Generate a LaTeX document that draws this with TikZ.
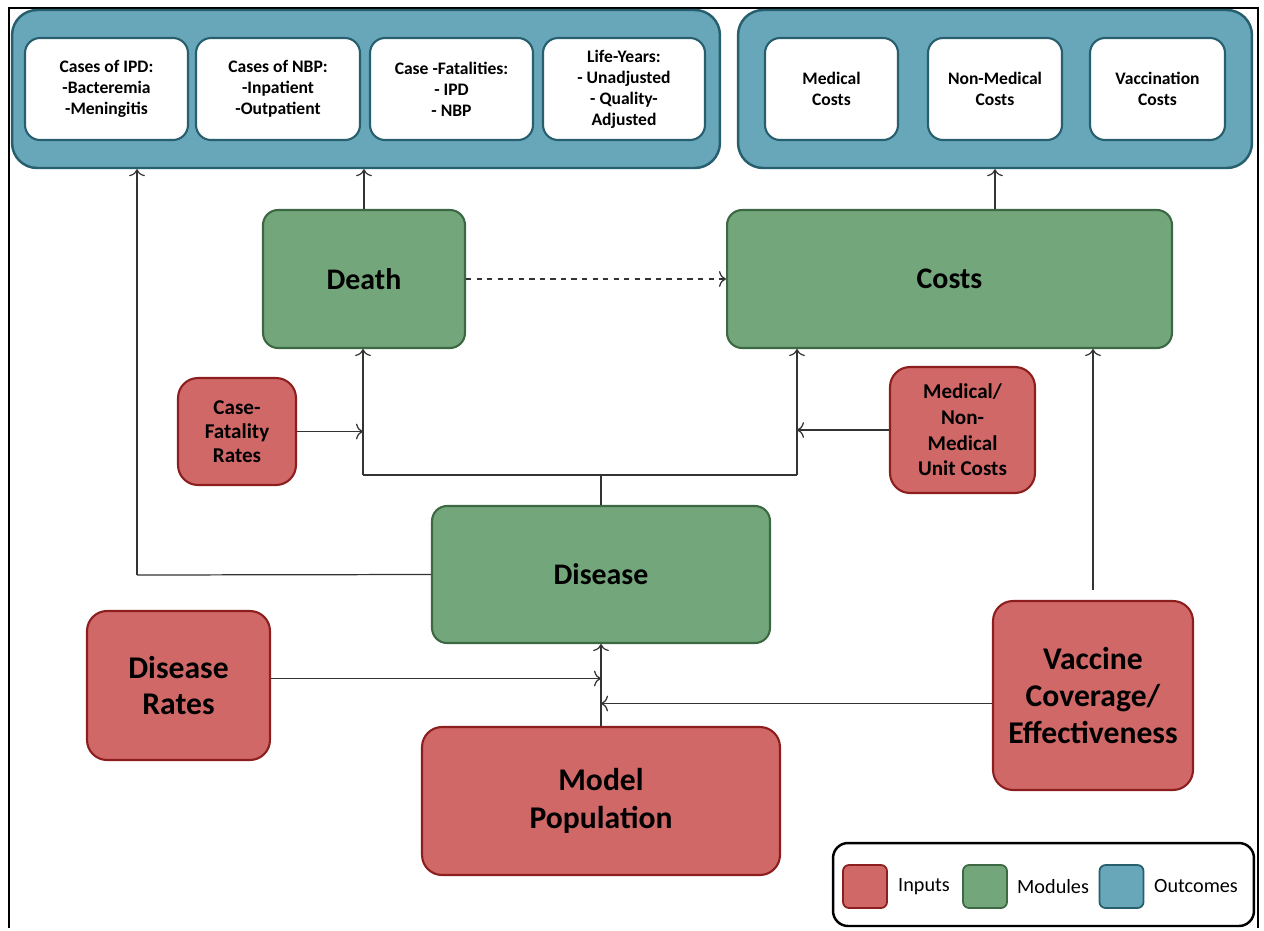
\documentclass[tikz,border=0pt]{standalone}
\usepackage{fontspec}
\setmainfont{Carlito}
\usetikzlibrary{calc,arrows.meta}

\definecolor{inputred}{RGB}{209,104,104}
\definecolor{inputline}{RGB}{140,30,30}
\definecolor{modgreen}{RGB}{115,166,122}
\definecolor{modline}{RGB}{60,105,68}
\definecolor{outteal}{RGB}{103,167,185}
\definecolor{outline}{RGB}{40,95,110}

\tikzset{
  input/.style={draw=inputline, fill=inputred, line width=1.2pt, rounded corners=0.4cm,
    align=center, inner sep=0pt, font=\bfseries},
  module/.style={draw=modline, fill=modgreen, line width=1.2pt, rounded corners=0.3cm,
    align=center, inner sep=0pt, font=\bfseries\fontsize{17}{20}\selectfont},
  panel/.style={draw=outline, fill=outteal, line width=1.4pt, rounded corners=0.5cm,
    inner sep=0pt, minimum height=3.16cm},
  result/.style={draw=outline, fill=white, line width=1.2pt, rounded corners=0.3cm,
    align=center, inner sep=0pt, minimum height=2.04cm,
    font=\bfseries\fontsize{10}{12}\selectfont},
  swatch/.style={line width=1pt, rounded corners=0.12cm, minimum width=0.88cm,
    minimum height=0.86cm, inner sep=0pt},
  link/.style={draw=black!80, line width=0.7pt},
  arrow/.style={link, -{To[length=4pt,width=9pt]}}
}

\begin{document}
\begin{tikzpicture}[x=0.02cm, y=-0.02cm]
  \useasboundingbox (0,0) rectangle (1264,930);
  % frame
  \draw[line width=1.6pt] (9,928) -- (9,8) -- (1258,8) -- (1258,928);

  % outcomes
  \node[panel, minimum width=14.16cm] (outL) at (366,89) {};
  \node[panel, minimum width=10.28cm] (outR) at (995,89) {};
  \node[result, minimum width=3.26cm] (ipd) at (106.5,89) {Cases of IPD:\\-Bacteremia\\-Meningitis};
  \node[result, minimum width=3.28cm] (nbp) at (278,89) {Cases of NBP:\\-Inpatient\\-Outpatient};
  \node[result, minimum width=3.26cm] (fat) at (451.5,89) {Case -Fatalities:\\- IPD\\- NBP};
  \node[result, minimum width=3.24cm] (ly) at (624,89) {Life-Years:\\- Unadjusted\\- Quality-\\Adjusted};
  \node[result, minimum width=2.66cm] (med) at (831.5,89) {Medical\\Costs};
  \node[result, minimum width=2.68cm] (nonmed) at (995,89) {Non-Medical\\Costs};
  \node[result, minimum width=2.70cm] (vacc) at (1157.5,89) {Vaccination\\Costs};

  % modules
  \node[module, minimum width=4.04cm, minimum height=2.76cm] (death) at (364,279) {Death};
  \node[module, minimum width=8.90cm, minimum height=2.76cm] (costs) at (949.5,279) {Costs};
  \node[module, minimum width=6.76cm, minimum height=2.74cm] (disease) at (601,574.5) {Disease};

  % inputs
  \node[input, minimum width=2.36cm, minimum height=2.14cm, font=\bfseries\fontsize{12}{13.6}\selectfont]
    (cfr) at (237,431.5) {Case-\\Fatality\\Rates};
  \node[input, minimum width=2.90cm, minimum height=2.52cm, font=\bfseries\fontsize{12}{14.6}\selectfont]
    (unit) at (962.5,430) {Medical/\\Non-\\Medical\\Unit Costs};
  \node[input, minimum width=3.66cm, minimum height=2.98cm, font=\bfseries\fontsize{18}{21}\selectfont]
    (rates) at (178.5,685.5) {Disease\\Rates};
  \node[input, minimum width=7.16cm, minimum height=2.96cm, font=\bfseries\fontsize{18}{21.5}\selectfont]
    (pop) at (601,801) {Model\\Population};
  \node[input, minimum width=4.00cm, minimum height=3.78cm, font=\bfseries\fontsize{18}{21}\selectfont]
    (vcov) at (1093,695.5) {Vaccine\\Coverage/\\Effectiveness};

  % junctions
  \coordinate (jl) at (363,475);
  \coordinate (jr) at (797,475);
  \coordinate (jd) at (disease.north |- jl);
  \coordinate (dl) at (137,575);
  \coordinate (rin) at ($(rates.east)+(0,-7)$);
  \coordinate (vin) at ($(vcov.west)+(0,8)$);

  % connectors
  \draw[arrow] (death.north) -- (death.north |- outL.south);
  \draw[arrow] (costs.north -| nonmed.south) -- (nonmed.south |- outR.south);
  \draw[arrow, dashed] (death.east) -- (costs.west);
  \draw[link] (disease.north) -- (jd);
  \draw[link] (jl) -- (jr);
  \draw[arrow] (jl) -- (jl |- death.south);
  \draw[arrow] (jr) -- (jr |- costs.south);
  \draw[arrow] (cfr.east) -- (cfr.east -| jl);
  \draw[arrow] (unit.west) -- (unit.west -| jr);
  \draw[link] (disease.west) -- (dl);
  \draw[arrow] (dl) -- (dl |- outL.south);
  \draw[arrow] (pop.north) -- (disease.south);
  \draw[arrow] (rin) -- (rin -| disease.south);
  \draw[arrow] (vin) -- (vin -| disease.south);
  \draw[arrow, shorten <=0.2cm] (vcov.north) -- (vcov.north |- costs.south);

  % legend
  \node[draw, line width=1.4pt, rounded corners=0.3cm, minimum width=8.42cm,
    minimum height=1.66cm, inner sep=0pt] (legend) at (1043.5,884.5) {};
  \node[swatch, draw=inputline, fill=inputred] (keyin) at (865,886.5) {};
  \node[swatch, draw=modline, fill=modgreen] (keymod) at (985,886.5) {};
  \node[swatch, draw=outline, fill=outteal] (keyout) at (1121.5,886.5) {};
  \node[anchor=west, font=\fontsize{11.5}{13}\selectfont] (txtin) at (892,886.5) {Inputs};
  \node[anchor=west, font=\fontsize{11.5}{13}\selectfont] (txtmod) at (1011,886.5) {Modules};
  \node[anchor=west, font=\fontsize{11.5}{13}\selectfont] (txtout) at (1148,886.5) {Outcomes};
\end{tikzpicture}
\end{document}
